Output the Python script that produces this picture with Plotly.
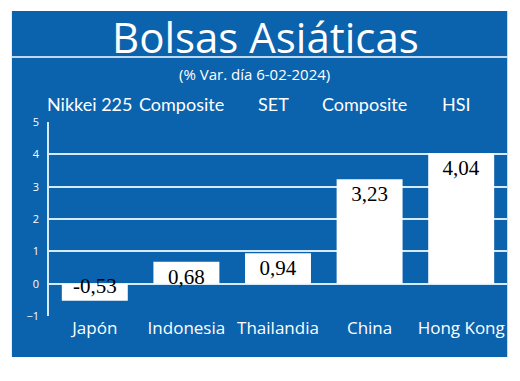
import plotly.graph_objects as go

countries = ["Japón", "Indonesia", "Thailandia", "China", "Hong Kong"]
indices = ["Nikkei 225", "Composite", "SET", "Composite", "HSI"]
values = [-0.53, 0.68, 0.94, 3.23, 4.04]
labels = ["-0,53", "0,68", "0,94", "3,23", "4,04"]
y_ticks = [-1, 0, 1, 2, 3, 4, 5]

BLUE = "#0b62ad"
LINE = "#d6ebf9"
SANS = "Open Sans, Noto Sans, sans-serif"
COND = "Lato, sans-serif"

fig = go.Figure()
fig.add_trace(go.Bar(
    x=countries, y=values, text=labels,
    marker=dict(color="white", line=dict(width=0)),
    width=0.72,
    textposition="inside", insidetextanchor="end",
    textfont=dict(family="Liberation Serif, serif", size=21, color="black"),
    cliponaxis=False,
))

for c, name in zip(countries, indices):
    fig.add_annotation(x=c, y=1.093, xref="x", yref="paper", text=name,
                       showarrow=False, xshift=-5, yanchor="middle",
                       font=dict(family=COND, size=18, color="white"))

fig.add_annotation(x=0.472, y=1.443, xref="paper", yref="paper", text="Bolsas Asiáticas",
                   showarrow=False, yanchor="middle",
                   font=dict(family=SANS, size=42, color="white"))
fig.add_annotation(x=0.448, y=1.245, xref="paper", yref="paper", text="(% Var. día 6-02-2024)",
                   showarrow=False, yanchor="middle",
                   font=dict(family=SANS, size=15, color="white"))

# panel background and separator
fig.add_shape(type="rect", xref="paper", yref="paper", x0=-0.081, x1=1.0005, y0=-0.211, y1=1.572,
              fillcolor=BLUE, line=dict(width=0), layer="below")
fig.add_shape(type="line", xref="paper", yref="paper", x0=-0.081, x1=1.0005, y0=1.335, y1=1.335,
              line=dict(color="white", width=1.5), layer="below")

fig.update_layout(
    width=520, height=381,
    margin=dict(l=49, r=13, t=122, b=65),
    paper_bgcolor="white", plot_bgcolor="rgba(0,0,0,0)",
    showlegend=False,
    xaxis=dict(showgrid=False, showline=False, ticks="", zeroline=False,
               tickfont=dict(family=SANS, size=17, color="white"), range=[-0.5, 4.5]),
    yaxis=dict(range=[-1, 5], tickvals=y_ticks, showgrid=True, gridcolor=LINE, gridwidth=1.5,
               zeroline=True, zerolinecolor=LINE, zerolinewidth=1.5,
               showline=True, linecolor=LINE, linewidth=1.5, ticks="", ticklabelstandoff=6,
               tickfont=dict(family=SANS, size=11, color="white")),
    uniformtext=dict(minsize=21, mode="show"),
)

fig.write_html("out.html")
